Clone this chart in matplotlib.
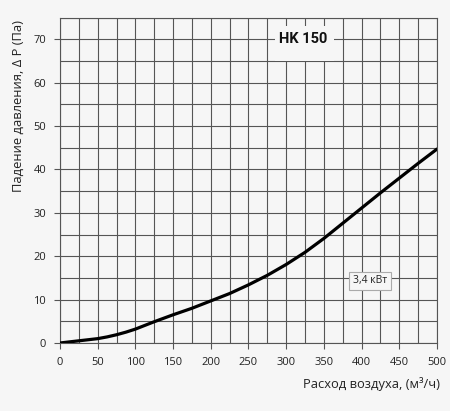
import numpy as np
import matplotlib.pyplot as plt
from matplotlib.ticker import MultipleLocator
from matplotlib.patches import Rectangle

# расход воздуха, м3/ч  и  падение давления, Па
flow = [0, 12.5, 25, 37.5, 50, 62.5, 75, 87.5, 100, 125, 150, 175, 200, 225,
        250, 275, 300, 325, 350, 375, 400, 425, 450, 475, 500]
dp = [0, 0.25, 0.5, 0.75, 1.0, 1.4, 1.9, 2.5, 3.2, 4.9, 6.5, 8.0, 9.7, 11.4,
      13.4, 15.6, 18.1, 20.9, 24.1, 27.6, 31.1, 34.6, 38.0, 41.4, 44.7]

model = 'HK 150'
power = '3,4 кВт'
xlabel = 'Расход воздуха, (м³/ч)'
ylabel = 'Падение давления, Δ P (Па)'

bg = '#f6f6f6'
plt.rcParams['font.family'] = ['Open Sans', 'DejaVu Sans']

fig = plt.figure(figsize=(4.5, 4.11), dpi=100, facecolor=bg)
ax = fig.add_axes([0.1333, 0.1655, 0.8377, 0.7915])
ax.set_facecolor(bg)

ax.plot(flow, dp, color='black', lw=2.3, solid_capstyle='round',
        solid_joinstyle='round', zorder=3)

ax.set_xlim(0, 500)
ax.set_ylim(0, 75)
ax.xaxis.set_major_locator(MultipleLocator(50))
ax.xaxis.set_minor_locator(MultipleLocator(25))
ax.yaxis.set_major_locator(MultipleLocator(10))
ax.yaxis.set_minor_locator(MultipleLocator(5))
ax.grid(which='both', color='#555555', lw=0.8)
ax.tick_params(which='major', length=4, width=0.8, color='#555555',
               labelsize=8, labelcolor='#222222', pad=6)
ax.tick_params(which='minor', length=0)
for s in ax.spines.values():
    s.set_color('#555555')
    s.set_linewidth(0.8)

ax.set_xlabel(xlabel, fontsize=9.3, color='#222222', ha='right', va='center')
ax.xaxis.set_label_coords(1.008, -0.126)
ax.set_ylabel(ylabel, fontsize=9.3, color='#222222', ha='center', va='center')
ax.yaxis.set_label_coords(-0.111, 0.73)

# плашка под название модели
ax.add_patch(Rectangle((285, 65.1), 78, 7.9, facecolor=bg, edgecolor='none',
                       zorder=4))
ax.text(322, 70, model, ha='center', va='center', fontsize=10.5,
        fontweight='bold', family=['Roboto', 'DejaVu Sans'], color='#111111',
        zorder=5)
ax.text(411, 14.3, power, ha='center', va='center', fontsize=7.5,
        color='#222222',
        bbox=dict(boxstyle='square,pad=0.35', facecolor=bg,
                  edgecolor='#aaaaaa', lw=0.8), zorder=4)

fig.savefig('out.png', dpi=100, facecolor=bg)
